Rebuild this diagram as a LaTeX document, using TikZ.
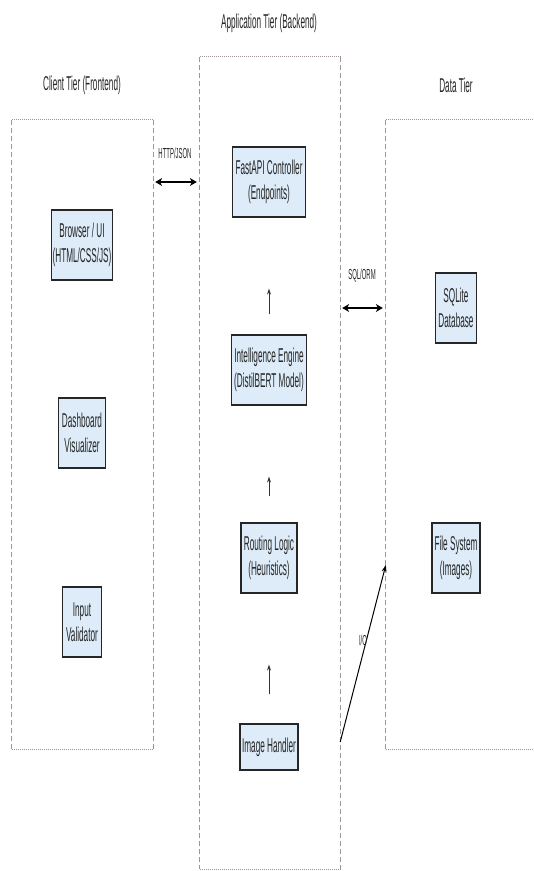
\documentclass[tikz,border=0pt]{standalone}
\usepackage{fontspec}
\setmainfont{Liberation Sans}[FakeStretch=0.41]
\usetikzlibrary{arrows.meta,calc}
\definecolor{framecol}{RGB}{160,148,148}
\definecolor{compfill}{RGB}{221,236,248}
\begin{document}
\begin{tikzpicture}[x=1pt,y=-1pt,
  comp/.style={draw=black!85, line width=1.2pt, fill=compfill, align=center,
    font=\fontsize{20}{25}\selectfont, text=black!85, inner sep=0pt, minimum height=70pt},
  frame/.style={inner sep=0pt, draw=none},
  dashside/.style={draw=framecol, line width=0.7pt, dash pattern=on 5pt off 3pt},
  dotside/.style={draw=framecol, line width=1.1pt, dash pattern=on 1pt off 1pt},
  title/.style={font=\fontsize{20}{24}\selectfont, text=black!85},
  lbl/.style={font=\fontsize{14.5}{16}\selectfont, text=black!85},
  dbl/.style={{Stealth[length=7pt,width=8pt]}-{Stealth[length=7pt,width=8pt]}, line width=2pt},
  up/.style={-{Stealth[length=6pt,width=4pt]}, line width=0.7pt, draw=black!80}]
\useasboundingbox[fill=white] (0,0) rectangle (534,871);

% tier frames
\node[frame, minimum width=141pt, minimum height=629pt] (client) at (82.5,434.5) {};
\node[frame, minimum width=140pt, minimum height=812pt] (app) at (270,463) {};
\node[frame, minimum width=154pt, minimum height=629pt] (data) at (463,434.5) {};
\foreach \f in {client,app,data}{
  \draw[dotside] (\f.north west) -- (\f.north east);
  \draw[dotside] (\f.south west) -- (\f.south east);
  \draw[dashside] (\f.north west) -- (\f.south west);
  \draw[dashside] (\f.north east) -- (\f.south east);
}

% titles
\node[title] (ctitle) at (82,85) {Client Tier (Frontend)};
\node[title] (atitle) at (269,23) {Application Tier (Backend)};
\node[title] (dtitle) at (456,85) {Data Tier};

% client components
\node[comp, minimum width=61pt] (browser) at (82,245) {Browser / UI\\(HTML/CSS/JS)};
\node[comp, minimum width=47pt] (dash) at (82,433) {Dashboard\\Visualizer};
\node[comp, minimum width=39pt] (input) at (82,622) {Input\\Validator};

% application components
\node[comp, minimum width=73pt] (fast) at (269,182) {FastAPI Controller\\(Endpoints)};
\node[comp, minimum width=75pt] (intel) at (269,370) {Intelligence Engine\\(DistilBERT Model)};
\node[comp, minimum width=56pt] (routing) at (269,558) {Routing Logic\\(Heuristics)};
\node[comp, minimum width=58pt, minimum height=46pt] (imgh) at (269,747) {Image Handler};

% data components
\node[comp, minimum width=41pt] (sqlite) at (456,308) {SQLite\\Database};
\node[comp, minimum width=48pt] (fs) at (456,558) {File System\\(Images)};

% connectors
\draw[dbl, shorten <=2pt, shorten >=3pt] (client.east |- fast) -- (app.west |- fast);
\node[lbl] (http) at (175,153) {HTTP/JSON};
\draw[dbl, shorten <=2pt, shorten >=3pt] (app.east |- sqlite) -- (data.west |- sqlite);
\node[lbl] (sql) at (362,276) {SQL/ORM};

\draw[up, shorten <=20pt, shorten >=71pt] (intel.north) -- (fast.south);
\draw[up, shorten <=26pt, shorten >=71pt] (routing.north) -- (intel.south);
\draw[up, shorten <=29pt, shorten >=71pt] (imgh.north) -- (routing.south);

\coordinate (ioend) at ($(data.west |- fs)+(0,7)$);
\draw[-{Stealth[length=7pt,width=5pt]}, line width=1pt] ($(app.east |- imgh)+(0,-5)$) -- (ioend);
\node[lbl] (io) at (363,640) {I/O};
\end{tikzpicture}
\end{document}
